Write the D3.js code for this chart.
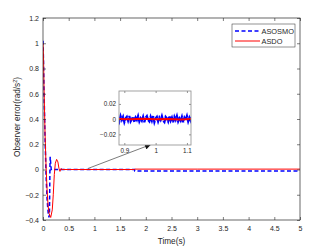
<!DOCTYPE html>
<html>
<head>
<meta charset="utf-8">
<script src="https://cdn.jsdelivr.net/npm/d3@7"></script>
<style>
  body { margin: 0; background: #fff; }
  svg { display: block; font-family: "Liberation Sans", Arial, sans-serif; }
</style>
</head>
<body>
<svg id="chart" width="332" height="249"></svg>
<script>
// ---- data ----
const seriesNames = ['ASOSMO', 'ASDO'];

// ASOSMO (blue dashed)
const asosmoT = [0, 0.01, 0.02, 0.04, 0.06, 0.08, 0.1, 0.115, 0.125, 0.13, 0.135, 0.14, 0.15, 0.16, 0.18, 0.2, 0.5, 1.0, 1.5, 1.78, 1.785, 2.5, 3.5, 5];
const asosmoV = [1.02, 0.85, 0.62, 0.25, -0.05, -0.24, -0.34, -0.38, -0.36, -0.2, 0.02, 0.1, 0.05, 0.0, 0.005, 0.0, 0.0, 0.0, 0.0, 0.0, -0.011, -0.011, -0.011, -0.011];

// ASDO (red solid)
const asdoT = [0, 0.01, 0.02, 0.04, 0.06, 0.08, 0.1, 0.12, 0.15, 0.18, 0.2, 0.22, 0.24, 0.265, 0.29, 0.31, 0.33, 0.35, 0.37, 0.5, 1.0, 1.78, 1.785, 3, 5];
const asdoV = [1.0, 0.9, 0.65, 0.28, 0.02, -0.17, -0.29, -0.35, -0.38, -0.32, -0.2, -0.04, 0.05, 0.08, 0.06, 0.01, -0.015, 0.008, 0.0, 0.0, 0.0, 0.0, 0.003, 0.003, 0.003];

// zoomed window (t = 0.88 ... 1.12, one sample every 0.004 s)
const insetT0 = 0.88, insetDt = 0.004;
const insetAsosmo = [2,-3,4,-1,3,-4,1,3,-2,4, -3,0,3,-4,2,-1,4,-3,1,-2, 3,-4,2,4,-1,-3,3,-2,4,-4,
                     1,3,-3,2,-1,4,-2,-4,3,1, -3,4,-2,2,-4,3,-1,4,-3,1, -2,3,-4,2,-1,4,-3,2,-2,3, 1].map(v => v * 0.001);
const insetAsdoT = [0.88, 0.92, 0.96, 1.0, 1.04, 1.08, 1.12];
const insetAsdo = [0.0003, -0.0002, 0.0004, -0.0003, 0.0002, -0.0004, 0.0003];

const xTicks = [0, 0.5, 1, 1.5, 2, 2.5, 3, 3.5, 4, 4.5, 5];
const yTicks = [-0.4, -0.2, 0, 0.2, 0.4, 0.6, 0.8, 1, 1.2];
const insetXTicks = [0.9, 1, 1.1];
const insetYTicks = [-0.02, 0, 0.02];

// arrow from the curve to the inset, in data units
const arrowFrom = [0.875, 0.008], arrowTo = [2.1, 0.198];

// ---- drawing ----
const svg = d3.select('#chart');
const ink = '#262626';
const blue = '#0000ff', red = '#ff0000';

const m = {left: 43, right: 300, top: 18, bottom: 220};
const x = d3.scaleLinear().domain([0, 5]).range([m.left, m.right]);
const y = d3.scaleLinear().domain([-0.4, 1.2]).range([m.bottom, m.top]);

svg.append('defs').append('clipPath').attr('id', 'clipMain')
  .append('rect').attr('x', m.left).attr('y', m.top)
  .attr('width', m.right - m.left).attr('height', m.bottom - m.top);

svg.append('rect')
  .attr('x', m.left).attr('y', m.top)
  .attr('width', m.right - m.left).attr('height', m.bottom - m.top)
  .attr('fill', '#fff');

const zipper = (ts, vs) => ts.map((t, i) => [t, vs[i]]);
const line = d3.line().x(d => x(d[0])).y(d => y(d[1]));

const plot = svg.append('g').attr('clip-path', 'url(#clipMain)');
plot.append('path')
  .datum(zipper(asosmoT, asosmoV))
  .attr('d', line)
  .attr('fill', 'none').attr('stroke', blue).attr('stroke-width', 1.5)
  .attr('stroke-dasharray', '4,2.5');
plot.append('path')
  .datum(zipper(asdoT, asdoV))
  .attr('d', line)
  .attr('fill', 'none').attr('stroke', red).attr('stroke-width', 1);

// axes with inward ticks, MATLAB box style
function styleAxis(g) {
  g.selectAll('.domain').remove();
  g.selectAll('line').attr('stroke', ink).attr('stroke-width', 0.6);
  g.selectAll('text').attr('fill', ink).style('font-size', '7px');
}
svg.append('g').attr('transform', `translate(0,${m.bottom})`)
  .call(d3.axisBottom(x).tickValues(xTicks).tickSize(-3).tickPadding(6).tickFormat(d3.format('')))
  .call(styleAxis);
svg.append('g').attr('transform', `translate(0,${m.top})`)
  .call(d3.axisTop(x).tickValues(xTicks).tickSize(-3).tickFormat(''))
  .call(styleAxis);
svg.append('g').attr('transform', `translate(${m.left},0)`)
  .call(d3.axisLeft(y).tickValues(yTicks).tickSize(-3).tickPadding(4).tickFormat(d3.format('')))
  .call(styleAxis);
svg.append('g').attr('transform', `translate(${m.right},0)`)
  .call(d3.axisRight(y).tickValues(yTicks).tickSize(-3).tickFormat(''))
  .call(styleAxis);

svg.append('rect')
  .attr('x', m.left).attr('y', m.top)
  .attr('width', m.right - m.left).attr('height', m.bottom - m.top)
  .attr('fill', 'none').attr('stroke', ink).attr('stroke-width', 0.7);

// labels
svg.append('text')
  .attr('x', (m.left + m.right) / 2).attr('y', 244)
  .attr('text-anchor', 'middle').attr('fill', ink)
  .style('font-size', '8.2px').text('Time(s)');

const yl = svg.append('text')
  .attr('transform', `translate(20,${(m.top + m.bottom) / 2 - 2}) rotate(-90)`)
  .attr('text-anchor', 'middle').attr('fill', ink)
  .style('font-size', '8.2px');
yl.append('tspan').text('Observer error(rad/s');
yl.append('tspan').attr('dy', -3).style('font-size', '5.5px').text('2');
yl.append('tspan').attr('dy', 3).text(')');

// arrow
svg.append('defs').append('marker')
  .attr('id', 'head').attr('viewBox', '0 0 10 10')
  .attr('refX', 10).attr('refY', 5)
  .attr('markerWidth', 7).attr('markerHeight', 6)
  .attr('markerUnits', 'userSpaceOnUse')
  .attr('orient', 'auto')
  .append('path').attr('d', 'M0,0 L10,5 L0,10 z').attr('fill', '#111');
svg.append('line')
  .attr('x1', x(arrowFrom[0])).attr('y1', y(arrowFrom[1]))
  .attr('x2', x(arrowTo[0])).attr('y2', y(arrowTo[1]))
  .attr('stroke', '#222').attr('stroke-width', 0.6)
  .attr('marker-end', 'url(#head)');

// inset
const im = {left: 119, right: 191, top: 91, bottom: 145};
const ix = d3.scaleLinear().domain([0.883, 1.113]).range([im.left, im.right]);
const iy = d3.scaleLinear().domain([-0.034, 0.037]).range([im.bottom, im.top]);

svg.append('defs').append('clipPath').attr('id', 'clipInset')
  .append('rect').attr('x', im.left).attr('y', im.top)
  .attr('width', im.right - im.left).attr('height', im.bottom - im.top);
svg.append('rect')
  .attr('x', im.left).attr('y', im.top)
  .attr('width', im.right - im.left).attr('height', im.bottom - im.top)
  .attr('fill', '#fff');

const iline = d3.line().x(d => ix(d[0])).y(d => iy(d[1]));
const ip = svg.append('g').attr('clip-path', 'url(#clipInset)');
ip.append('path')
  .datum(insetAsosmo.map((v, i) => [insetT0 + i * insetDt, v]))
  .attr('d', iline)
  .attr('fill', 'none').attr('stroke', blue).attr('stroke-width', 2.2)
  .attr('stroke-dasharray', '5,1');
ip.append('path')
  .datum(zipper(insetAsdoT, insetAsdo))
  .attr('d', iline)
  .attr('fill', 'none').attr('stroke', red).attr('stroke-width', 2);

function styleInset(g) {
  g.selectAll('.domain').remove();
  g.selectAll('line').attr('stroke', ink).attr('stroke-width', 0.5);
  g.selectAll('text').attr('fill', ink).style('font-size', '6.3px');
}
svg.append('g').attr('transform', `translate(0,${im.bottom})`)
  .call(d3.axisBottom(ix).tickValues(insetXTicks).tickSize(-2).tickPadding(4).tickFormat(d3.format('')))
  .call(styleInset);
svg.append('g').attr('transform', `translate(0,${im.top})`)
  .call(d3.axisTop(ix).tickValues(insetXTicks).tickSize(-2).tickFormat(''))
  .call(styleInset);
svg.append('g').attr('transform', `translate(${im.left},0)`)
  .call(d3.axisLeft(iy).tickValues(insetYTicks).tickSize(-2).tickPadding(3).tickFormat(d3.format('')))
  .call(styleInset);
svg.append('g').attr('transform', `translate(${im.right},0)`)
  .call(d3.axisRight(iy).tickValues(insetYTicks).tickSize(-2).tickFormat(''))
  .call(styleInset);
svg.append('rect')
  .attr('x', im.left).attr('y', im.top)
  .attr('width', im.right - im.left).attr('height', im.bottom - im.top)
  .attr('fill', 'none').attr('stroke', '#8c8c8c').attr('stroke-width', 0.8);

// legend
const lg = svg.append('g').attr('transform', 'translate(232,24)');
lg.append('rect').attr('width', 63).attr('height', 23)
  .attr('fill', '#fff').attr('stroke', ink).attr('stroke-width', 0.5);
const legendStyles = [
  {color: blue, dash: '4,2.5', width: 1.5},
  {color: red, dash: null, width: 1}
];
seriesNames.forEach((name, i) => {
  const yy = 7 + i * 10;
  lg.append('line')
    .attr('x1', 3).attr('x2', 28).attr('y1', yy).attr('y2', yy)
    .attr('stroke', legendStyles[i].color).attr('stroke-width', legendStyles[i].width)
    .attr('stroke-dasharray', legendStyles[i].dash);
  lg.append('text')
    .attr('x', 29.5).attr('y', yy + 2.6)
    .attr('fill', ink).style('font-size', '7.4px')
    .text(name);
});
</script>
</body>
</html>
